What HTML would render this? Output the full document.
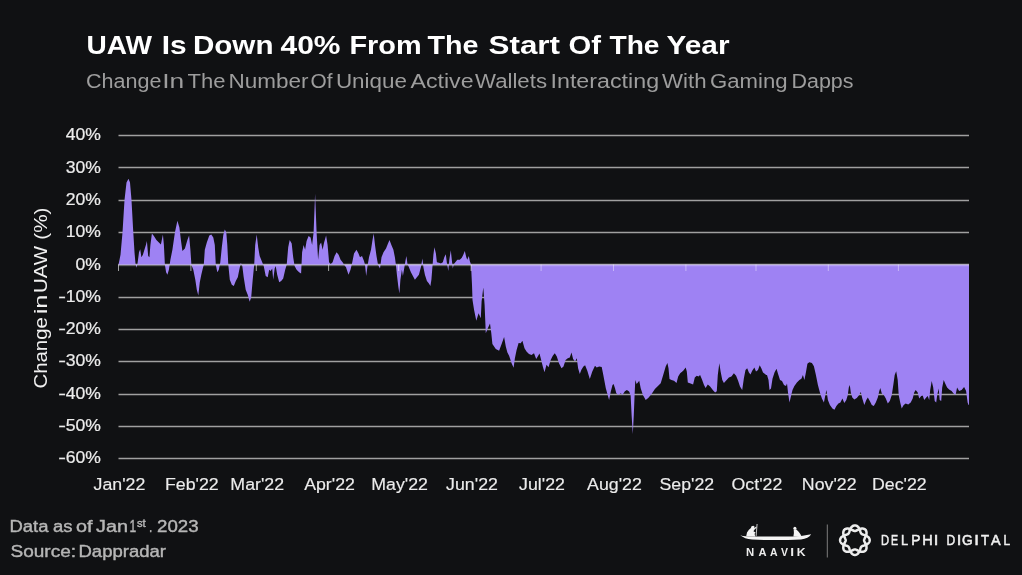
<!DOCTYPE html>
<html><head><meta charset="utf-8"><title>UAW Is Down 40% From The Start Of The Year</title>
<style>
html,body{margin:0;padding:0;background:#101113;}
body{width:1022px;height:575px;overflow:hidden;position:relative;font-family:"Liberation Sans",sans-serif;}
svg{position:absolute;left:0;top:0;}
svg text{font-family:"Liberation Sans",sans-serif;}
.title{font-size:26px;font-weight:bold;fill:#fff;}
.sub{font-size:19.5px;fill:#9d9d9d;}
.yl text{font-size:16px;fill:#ececec;stroke:#ececec;stroke-width:0.2;}
.xl text{font-size:16.5px;fill:#ececec;stroke:#ececec;stroke-width:0.15;}
.grid line{stroke:#a0a0a0;stroke-width:1.35;}
.ticks line{stroke:rgba(255,255,255,0.6);stroke-width:1;}
.foot{font-size:16px;fill:#b6b6b6;stroke:#b6b6b6;stroke-width:0.4;}
</style></head><body>
<svg width="1022" height="575" viewBox="0 0 1022 575">
<rect width="1022" height="575" fill="#101113"/>
<text class="title" y="54.4"><tspan x="86.5" textLength="65.5" lengthAdjust="spacingAndGlyphs">UAW</tspan> <tspan x="161.8" textLength="24.9" lengthAdjust="spacingAndGlyphs">Is</tspan> <tspan x="192.9" textLength="80.6" lengthAdjust="spacingAndGlyphs">Down</tspan> <tspan x="280.5" textLength="60" lengthAdjust="spacingAndGlyphs">40%</tspan> <tspan x="349.4" textLength="72.2" lengthAdjust="spacingAndGlyphs">From</tspan> <tspan x="427.5" textLength="51" lengthAdjust="spacingAndGlyphs">The</tspan> <tspan x="488.5" textLength="71.5" lengthAdjust="spacingAndGlyphs">Start</tspan> <tspan x="568.5" textLength="32.5" lengthAdjust="spacingAndGlyphs">Of</tspan> <tspan x="609.5" textLength="50" lengthAdjust="spacingAndGlyphs">The</tspan> <tspan x="666.5" textLength="63" lengthAdjust="spacingAndGlyphs">Year</tspan></text>
<text class="sub" y="87.9"><tspan x="86" textLength="75.5" lengthAdjust="spacingAndGlyphs">Change</tspan> <tspan x="162.2" textLength="22" lengthAdjust="spacingAndGlyphs">In</tspan> <tspan x="187.5" textLength="38" lengthAdjust="spacingAndGlyphs">The</tspan> <tspan x="228.5" textLength="80" lengthAdjust="spacingAndGlyphs">Number</tspan> <tspan x="310.5" textLength="22" lengthAdjust="spacingAndGlyphs">Of</tspan> <tspan x="335.9" textLength="71.1" lengthAdjust="spacingAndGlyphs">Unique</tspan> <tspan x="410.5" textLength="63.1" lengthAdjust="spacingAndGlyphs">Active</tspan> <tspan x="475" textLength="72" lengthAdjust="spacingAndGlyphs">Wallets</tspan> <tspan x="550.5" textLength="108.6" lengthAdjust="spacingAndGlyphs">Interacting</tspan> <tspan x="662" textLength="44.5" lengthAdjust="spacingAndGlyphs">With</tspan> <tspan x="710" textLength="77.5" lengthAdjust="spacingAndGlyphs">Gaming</tspan> <tspan x="791.5" textLength="62" lengthAdjust="spacingAndGlyphs">Dapps</tspan></text>
<g class="grid"><line x1="118.5" x2="969" y1="135.5" y2="135.5"/><line x1="118.5" x2="969" y1="167.5" y2="167.5"/><line x1="118.5" x2="969" y1="200.5" y2="200.5"/><line x1="118.5" x2="969" y1="232.5" y2="232.5"/><line x1="118.5" x2="969" y1="264.5" y2="264.5"/><line x1="118.5" x2="969" y1="297.5" y2="297.5"/><line x1="118.5" x2="969" y1="329.5" y2="329.5"/><line x1="118.5" x2="969" y1="361.5" y2="361.5"/><line x1="118.5" x2="969" y1="394.5" y2="394.5"/><line x1="118.5" x2="969" y1="426.5" y2="426.5"/><line x1="118.5" x2="969" y1="458.5" y2="458.5"/></g>
<path d="M118.5 264.8 L118.5 264.8 L120.5 254.8 L122.5 232.4 L124.5 199.9 L126.5 182.5 L128.5 178.7 L130 182.5 L131.5 199.9 L133 227.4 L134.5 252.3 L135.5 263.6 L136.5 267.8 L137.5 263.6 L139 252.3 L140.2 249.3 L141.4 257.3 L142.9 254.8 L144.4 249.8 L145.9 244.9 L146.9 241.1 L148.2 256.1 L149.4 257.3 L150.4 244.9 L151.9 233.6 L153.9 236.1 L156.4 239.9 L158.9 242.4 L160.9 244.4 L162.9 234.4 L163.9 244.9 L164.9 264.8 L166.1 272.3 L167.4 274.8 L168.9 269.8 L170.4 259.8 L172.4 249.8 L174.9 232.4 L177.4 220.7 L179.4 227.4 L180.9 239.9 L182.4 251.1 L184.9 248.6 L187.4 239.9 L189.1 235.4 L190.4 249.8 L191.4 264.8 L193.3 269.8 L195.3 279.8 L196.8 289.8 L198.3 295.5 L199.8 282.3 L201.3 274.8 L202.8 268.6 L203.8 264.8 L204.8 249.8 L206.8 242.4 L209.3 235.4 L211.3 234.4 L213.3 237.4 L214.8 244.9 L215.8 264.8 L217.3 272.3 L218.8 269.8 L220.3 262.3 L221.8 247.3 L223.3 234.9 L224.8 229.4 L226.3 232.4 L227.3 244.9 L228.3 264.8 L229.8 279.8 L231.8 284.8 L233.8 286 L235.8 281 L237.8 277.3 L239.3 269.8 L240.8 262.8 L242.3 266.1 L243.7 277.3 L245.7 289.8 L247.7 294.8 L249.7 301.7 L251.2 297.3 L252.7 279.8 L254.2 264.8 L255.2 244.9 L256.7 234.4 L258.2 247.3 L259.7 256.1 L261.7 261.1 L263.7 266.1 L265.7 276 L267.7 277.3 L269.2 269.8 L270.7 271.1 L272.2 268.6 L273.2 279.8 L274.7 268.6 L275.7 266.1 L277.2 274.8 L279.2 282.3 L281.2 281 L283.2 278.5 L285.2 269.8 L286.7 264.8 L288.2 247.3 L289.7 239.9 L291.7 243.6 L293.2 257.3 L294.6 266.1 L296.6 269.8 L299.1 272.3 L301.1 273.5 L302.1 252.3 L303.6 244.9 L305.1 249.8 L306.6 241.1 L308.6 236.1 L310.6 237.4 L312.1 244.9 L313.6 232.4 L315.1 193.7 L316.6 232.4 L318.1 259.8 L319.6 244.9 L321.1 242.4 L322.6 249.8 L324.1 242.4 L326.1 235.4 L327.6 244.9 L329.1 262.3 L330.6 264.3 L332.6 262.3 L334.6 256.1 L336.6 252.3 L338.6 254.8 L340.6 259.8 L342.6 262.3 L344.1 264.8 L346 267.3 L348.5 274.8 L350.5 269.8 L352 263.6 L354 253.6 L356.5 249.8 L358.5 253.6 L360 257.3 L362 256.1 L364 261.1 L365 264.8 L366.2 276 L367.5 266.1 L369 257.3 L371 249.8 L372.5 239.9 L373.7 233.6 L375 244.9 L376.5 256.1 L378 264.8 L380 268.6 L381.5 257.3 L383.5 252.3 L386 248.6 L388 243.6 L389.5 239.9 L391.4 244.9 L393.4 249.8 L394.9 257.3 L395.9 264.8 L396.9 274.8 L398.4 287.3 L399.4 293.5 L400.4 279.8 L401.9 269.8 L402.9 276 L404.4 267.3 L405.4 261.1 L406.4 256.1 L407.4 263.6 L408.9 267.3 L410.9 272.3 L412.9 276 L414.9 279.8 L416.9 277.3 L418.9 274.8 L420.9 267.3 L422.4 258.6 L423.4 267.3 L424.9 274.8 L426.9 281 L428.9 283.5 L430.4 286 L431.4 279.8 L432.4 267.3 L433.4 254.8 L434.4 247.3 L435.9 253.6 L436.9 262.3 L438.9 262.8 L440.9 263.6 L442.8 262.3 L444.3 257.3 L445.8 254.3 L446.8 262.3 L448.3 271.1 L449.3 259.8 L450.8 250.3 L451.8 259.8 L452.8 268.6 L453.8 264.3 L455.3 262.3 L457.3 259.8 L459.8 259.8 L461.8 257.8 L463.3 254.8 L464.8 251.1 L466.3 257.3 L467.3 259.8 L468.8 256.1 L469.8 261.1 L471 264.5 L472 284.9 L472.5 300 L474.1 310 L476.3 320.8 L478.6 313.3 L480.8 318.3 L481.6 301.6 L483.3 287.5 L484.6 305 L485.8 333.2 L487.5 329.1 L490 323.6 L491.3 333.2 L492.4 344.1 L495.8 349 L499.1 350.7 L501.9 343.2 L504.1 336.9 L505.8 346.5 L507.4 352.4 L509.1 355.7 L511.6 363.2 L513.6 367.7 L514.9 358.2 L516.6 349.9 L518.6 342.9 L520.7 343.2 L522.4 340.7 L524.5 348.2 L526.5 351.5 L529 354 L531.5 354.9 L534 353.2 L536.2 359 L538.2 355.7 L539.5 353.5 L541.2 359.9 L542.8 366.5 L544.5 372.3 L546.5 364.8 L548.5 367.3 L550.7 359.9 L552.8 355.7 L554.8 353.2 L556.8 356.5 L559 363.2 L561.5 368.2 L563.5 366.5 L565.6 359.9 L567.8 358.2 L569.8 357.4 L571.5 352.4 L573.1 359 L575.1 361.5 L576.8 358.2 L578.1 368.2 L579.8 374 L581.4 369.8 L583.4 366.5 L585.1 365.2 L587.3 370.7 L589.8 379 L592.3 371.5 L595 365.8 L596.7 367.5 L599.2 366.6 L601.7 367 L603.3 374.9 L605.8 388.2 L609.1 399.9 L610.8 391.6 L612.5 384.9 L613.6 384.1 L615 388.2 L616.3 393.2 L618.3 394.9 L620.8 393.2 L622.4 394.9 L624.9 391.2 L626.9 389.9 L629.1 391.6 L630.6 394.9 L631.6 414.9 L632.8 434 L633.8 414.9 L634.6 394.9 L635.3 379.9 L636.6 384.1 L637.9 382.4 L639.2 380.8 L640.7 388.2 L642.9 394.9 L645.7 399.9 L648.2 397.9 L651.6 394.1 L654.9 389.1 L658.2 385.8 L660.7 383.3 L663.2 374.9 L665.7 366.6 L667.4 363 L668.5 368.3 L669.5 379.1 L671.5 379.9 L674 380.8 L676.5 382.9 L678.2 376.6 L680.2 373.3 L683.2 370.8 L685.7 367.5 L686.8 371.6 L687.8 382.4 L690.6 383.6 L693.1 384.6 L694.8 377.4 L696.8 375.8 L698.5 376.6 L700.1 374.9 L701.8 379.1 L704 384.9 L705.6 387.9 L707.8 384.6 L710.1 386.6 L712.8 389.9 L715.1 392.4 L716.8 391.2 L717.8 374.9 L719.3 363.3 L720.6 371.6 L722.3 379.9 L723.9 382.9 L726.4 380.3 L728.9 377.4 L731.4 376.6 L733.9 373.3 L736.1 375.8 L738.1 380.8 L740 386.6 L742.2 389.9 L743.9 378.3 L745.5 370 L747.2 368.3 L748.9 372.4 L750.5 374.6 L752.2 370.8 L754.4 367.5 L756 371.6 L758 370 L759.7 365.3 L761.3 368.3 L763 372.4 L765 374.1 L766.1 374.9 L767 374.9 L768.5 379.9 L769.5 389.9 L771 388.6 L772.5 378.7 L774.5 372.4 L776.5 368.7 L778 373.7 L780 379.9 L782 381.1 L784 384.9 L786 386.1 L787 383.6 L788 392.4 L789.5 402.4 L791 396.1 L792.5 389.9 L794.4 386.1 L796.9 382.4 L799.4 379.9 L801.4 378.7 L802.9 374.9 L804.4 379.9 L805.9 372.4 L807.4 363.7 L809.4 361.9 L811.9 362.9 L813.9 366.2 L815.9 374.9 L817.9 384.9 L819.9 392.4 L821.9 398.6 L823.9 402.4 L825.4 394.9 L826.4 389.9 L827.9 399.9 L829.9 404.9 L832.4 408.6 L834.4 409.8 L836.4 406.1 L838.4 403.6 L840.4 402.4 L842.4 398.6 L844.3 402.9 L846.3 399.9 L847.8 394.9 L848.8 387.4 L849.8 384.9 L850.8 392.4 L852.3 397.4 L854.3 399.4 L856.8 397.9 L858.8 395.4 L860.8 391.9 L862.3 398.6 L864.3 404.9 L866.3 399.9 L867.8 397.4 L869.8 401.1 L871.8 404.9 L873.8 406.1 L875.8 402.4 L877.8 397.4 L879.3 391.1 L880.3 387.9 L881.8 393.6 L883.8 394.9 L885.8 398.6 L887.8 403.6 L889.8 401.1 L891.8 394.9 L893.3 384.9 L894.7 374.9 L896.2 371.2 L897.7 379.9 L898.7 394.9 L900.2 402.4 L901.7 408.6 L903.7 404.9 L905.7 403.6 L908.2 404.4 L910.7 402.4 L912.7 398.6 L914.2 392.4 L915.7 389.9 L917.7 392.4 L919.2 398.6 L921.2 396.1 L922.7 395.4 L924.2 399.9 L926.2 397.4 L927.7 396.1 L929.2 399.9 L930.2 389.9 L931.7 381.1 L933.2 387.4 L934.7 401.1 L936.2 402.4 L937.2 394.9 L938.7 388.6 L939.7 399.9 L941.2 401.1 L942.2 387.4 L943.7 379.9 L945.2 383.6 L947.1 387.4 L949.1 389.4 L951.6 391.1 L953.6 393.6 L955.6 394.9 L957.1 387.4 L959.1 391.1 L961.6 389.9 L964.1 386.9 L966.1 391.1 L967.6 402.4 L968.6 404.9 L969 404.9 L969 264.8 Z" fill="#9e82f3"/>
<line x1="118.5" x2="969" y1="265.2" y2="265.2" stroke="rgba(255,255,255,0.27)" stroke-width="2"/>
<g class="ticks"><line x1="118.5" x2="118.5" y1="264.5" y2="271"/><line x1="190.9" x2="190.9" y1="264.5" y2="271"/><line x1="256.3" x2="256.3" y1="264.5" y2="271"/><line x1="328.6" x2="328.6" y1="264.5" y2="271"/><line x1="398.7" x2="398.7" y1="264.5" y2="271"/><line x1="471.1" x2="471.1" y1="264.5" y2="271"/><line x1="541.1" x2="541.1" y1="264.5" y2="271" stroke-opacity="0.7"/><line x1="613.5" x2="613.5" y1="264.5" y2="271" stroke-opacity="0.7"/><line x1="685.9" x2="685.9" y1="264.5" y2="271" stroke-opacity="0.7"/><line x1="756" x2="756" y1="264.5" y2="271" stroke-opacity="0.7"/><line x1="828.3" x2="828.3" y1="264.5" y2="271" stroke-opacity="0.7"/><line x1="898.4" x2="898.4" y1="264.5" y2="271" stroke-opacity="0.7"/></g>
<g class="yl"><text transform="translate(101,140.3) scale(1.1,1)" text-anchor="end">40%</text><text transform="translate(101,172.6) scale(1.1,1)" text-anchor="end">30%</text><text transform="translate(101,204.9) scale(1.1,1)" text-anchor="end">20%</text><text transform="translate(101,237.2) scale(1.1,1)" text-anchor="end">10%</text><text transform="translate(101,269.5) scale(1.1,1)" text-anchor="end">0%</text><text transform="translate(101,301.8) scale(1.1,1)" text-anchor="end"><tspan textLength="7" lengthAdjust="spacingAndGlyphs">-</tspan>10%</text><text transform="translate(101,334.1) scale(1.1,1)" text-anchor="end"><tspan textLength="7" lengthAdjust="spacingAndGlyphs">-</tspan>20%</text><text transform="translate(101,366.4) scale(1.1,1)" text-anchor="end"><tspan textLength="7" lengthAdjust="spacingAndGlyphs">-</tspan>30%</text><text transform="translate(101,398.7) scale(1.1,1)" text-anchor="end"><tspan textLength="7" lengthAdjust="spacingAndGlyphs">-</tspan>40%</text><text transform="translate(101,431) scale(1.1,1)" text-anchor="end"><tspan textLength="7" lengthAdjust="spacingAndGlyphs">-</tspan>50%</text><text transform="translate(101,463.3) scale(1.1,1)" text-anchor="end"><tspan textLength="7" lengthAdjust="spacingAndGlyphs">-</tspan>60%</text></g>
<g class="xl"><text transform="translate(119.4,490) scale(1.077,1)" text-anchor="middle">Jan'22</text><text transform="translate(191.8,490) scale(1.077,1)" text-anchor="middle">Feb'22</text><text transform="translate(257.2,490) scale(1.077,1)" text-anchor="middle">Mar'22</text><text transform="translate(329.5,490) scale(1.077,1)" text-anchor="middle">Apr'22</text><text transform="translate(399.6,490) scale(1.077,1)" text-anchor="middle">May'22</text><text transform="translate(472,490) scale(1.077,1)" text-anchor="middle">Jun'22</text><text transform="translate(542,490) scale(1.077,1)" text-anchor="middle">Jul'22</text><text transform="translate(614.4,490) scale(1.077,1)" text-anchor="middle">Aug'22</text><text transform="translate(686.8,490) scale(1.077,1)" text-anchor="middle">Sep'22</text><text transform="translate(756.9,490) scale(1.077,1)" text-anchor="middle">Oct'22</text><text transform="translate(829.2,490) scale(1.077,1)" text-anchor="middle">Nov'22</text><text transform="translate(899.3,490) scale(1.077,1)" text-anchor="middle">Dec'22</text></g>
<text transform="translate(47.3,387.6) rotate(-90)" font-size="19" fill="#f0f0f0" y="0"><tspan x="-1" textLength="71.5" lengthAdjust="spacingAndGlyphs">Change</tspan> <tspan x="73.3" textLength="19.8" lengthAdjust="spacingAndGlyphs">in</tspan> <tspan x="94.5" textLength="47.1" lengthAdjust="spacingAndGlyphs">UAW</tspan> <tspan x="147.9" textLength="32.2" lengthAdjust="spacingAndGlyphs">(%)</tspan></text>
<text class="foot" y="532"><tspan x="9.5" textLength="39" lengthAdjust="spacingAndGlyphs">Data</tspan> <tspan x="53" textLength="19.5" lengthAdjust="spacingAndGlyphs">as</tspan> <tspan x="76" textLength="16.5" lengthAdjust="spacingAndGlyphs">of</tspan> <tspan x="96" textLength="32" lengthAdjust="spacingAndGlyphs">Jan</tspan> <tspan x="129.4" textLength="6.7" lengthAdjust="spacingAndGlyphs">1</tspan><tspan x="136.9" y="526.6" font-size="10" textLength="8.7" lengthAdjust="spacingAndGlyphs">st</tspan><tspan x="148.9" y="532" textLength="3.3" lengthAdjust="spacingAndGlyphs">.</tspan> <tspan x="157" textLength="41.5" lengthAdjust="spacingAndGlyphs">2023</tspan></text>
<text class="foot" y="556.8"><tspan x="10.5" textLength="65.5" lengthAdjust="spacingAndGlyphs">Source:</tspan> <tspan x="78.5" textLength="87.5" lengthAdjust="spacingAndGlyphs">Dappradar</tspan></text>
<!-- naavik -->
<g fill="#f4f4f4">
<path d="M740.3 535.2 Q742.5 536 746 536.2 L757.5 536.5 L793 536.5 Q803 536.3 811.2 534.3 Q808.5 538.6 801 539.6 Q775 540.6 752 539.6 Q744.5 538.8 740.3 535.2Z"/>
<path d="M746.2 536.2 L747 532.5 L748.9 529.7 L750.9 528 L751.5 526.2 L753.4 525.7 L754.6 526.8 L754.2 528.2 L756.2 526.5 L756.6 527.4 L754.4 529.7 L753.4 531.2 L755.6 532.5 L754.6 533.7 L755.2 536.4Z"/>
<circle cx="794.9" cy="528.2" r="1.5"/>
<path d="M793.7 529.4 L796.1 529.3 L798.2 531.3 L799.8 533.3 L801.2 535.6 L800 536.6 L793.4 536.6 L793.9 533Z"/>
</g>
<line x1="757.1" y1="524" x2="756.1" y2="536" stroke="#f4f4f4" stroke-width="0.8"/>
<text y="556.1" font-size="11.8" font-weight="bold" fill="#ededed"><tspan x="745.9" textLength="8.2" lengthAdjust="spacingAndGlyphs">N</tspan><tspan x="758.4" textLength="8.1" lengthAdjust="spacingAndGlyphs">A</tspan><tspan x="770" textLength="7.6" lengthAdjust="spacingAndGlyphs">A</tspan><tspan x="781" textLength="7" lengthAdjust="spacingAndGlyphs">V</tspan><tspan x="790.3" textLength="3.8" lengthAdjust="spacingAndGlyphs">I</tspan><tspan x="796.8" textLength="8.8" lengthAdjust="spacingAndGlyphs">K</tspan></text>
<line x1="827.3" x2="827.3" y1="524.5" y2="557.5" stroke="#7d7d7d" stroke-width="1"/>
<g fill="none" stroke="#ececec" stroke-width="2.5"><path d="M869.7 540.2 L869.7 540.6 L869.6 541 L869.5 541.4 L869.4 541.7 L869.2 542.1 L869 542.4 L868.7 542.8 L868.5 543.1 L868.2 543.4 L867.8 543.7 L867.5 543.9 L867.1 544.2 L866.8 544.4 L866.4 544.6 L866 544.8 L865.6 545 L865.2 545.1 L864.8 545.3 L864.4 545.4 L864.1 545.5 L863.7 545.6 L863.4 545.7 L863.1 545.8 L862.8 545.9 L862.5 546 L862.2 546.1 L862 546.3 L861.8 546.4 L861.6 546.5 L861.4 546.7 L861.2 546.9 L861.1 547.1 L861 547.3 L860.8 547.5 L860.7 547.8 L860.6 548.1 L860.5 548.4 L860.4 548.7 L860.3 549 L860.2 549.4 L860.1 549.7 L860 550.1 L859.8 550.5 L859.7 550.9 L859.5 551.3 L859.3 551.7 L859.1 552.1 L858.9 552.4 L858.6 552.8 L858.4 553.1 L858.1 553.5 L857.8 553.8 L857.5 554 L857.1 554.3 L856.8 554.5 L856.4 554.7 L856.1 554.8 L855.7 554.9 L855.3 555 L854.9 555 L854.5 555 L854.1 554.9 L853.7 554.8 L853.4 554.7 L853 554.5 L852.7 554.3 L852.3 554 L852 553.8 L851.7 553.5 L851.4 553.1 L851.2 552.8 L850.9 552.4 L850.7 552.1 L850.5 551.7 L850.3 551.3 L850.1 550.9 L850 550.5 L849.8 550.1 L849.7 549.7 L849.6 549.4 L849.5 549 L849.4 548.7 L849.3 548.4 L849.2 548.1 L849.1 547.8 L849 547.5 L848.8 547.3 L848.7 547.1 L848.6 546.9 L848.4 546.7 L848.2 546.5 L848 546.4 L847.8 546.3 L847.6 546.1 L847.3 546 L847 545.9 L846.7 545.8 L846.4 545.7 L846.1 545.6 L845.7 545.5 L845.4 545.4 L845 545.3 L844.6 545.1 L844.2 545 L843.8 544.8 L843.4 544.6 L843 544.4 L842.7 544.2 L842.3 543.9 L842 543.7 L841.6 543.4 L841.3 543.1 L841.1 542.8 L840.8 542.4 L840.6 542.1 L840.4 541.7 L840.3 541.4 L840.2 541 L840.1 540.6 L840.1 540.2 L840.1 539.8 L840.2 539.4 L840.3 539 L840.4 538.7 L840.6 538.3 L840.8 538 L841.1 537.6 L841.3 537.3 L841.6 537 L842 536.7 L842.3 536.5 L842.7 536.2 L843 536 L843.4 535.8 L843.8 535.6 L844.2 535.4 L844.6 535.3 L845 535.1 L845.4 535 L845.7 534.9 L846.1 534.8 L846.4 534.7 L846.7 534.6 L847 534.5 L847.3 534.4 L847.6 534.3 L847.8 534.1 L848 534 L848.2 533.9 L848.4 533.7 L848.6 533.5 L848.7 533.3 L848.8 533.1 L849 532.9 L849.1 532.6 L849.2 532.3 L849.3 532 L849.4 531.7 L849.5 531.4 L849.6 531 L849.7 530.7 L849.8 530.3 L850 529.9 L850.1 529.5 L850.3 529.1 L850.5 528.7 L850.7 528.3 L850.9 528 L851.2 527.6 L851.4 527.3 L851.7 526.9 L852 526.6 L852.3 526.4 L852.7 526.1 L853 525.9 L853.4 525.7 L853.7 525.6 L854.1 525.5 L854.5 525.4 L854.9 525.4 L855.3 525.4 L855.7 525.5 L856.1 525.6 L856.4 525.7 L856.8 525.9 L857.1 526.1 L857.5 526.4 L857.8 526.6 L858.1 526.9 L858.4 527.3 L858.6 527.6 L858.9 528 L859.1 528.3 L859.3 528.7 L859.5 529.1 L859.7 529.5 L859.8 529.9 L860 530.3 L860.1 530.7 L860.2 531 L860.3 531.4 L860.4 531.7 L860.5 532 L860.6 532.3 L860.7 532.6 L860.8 532.9 L861 533.1 L861.1 533.3 L861.2 533.5 L861.4 533.7 L861.6 533.9 L861.8 534 L862 534.1 L862.2 534.3 L862.5 534.4 L862.8 534.5 L863.1 534.6 L863.4 534.7 L863.7 534.8 L864.1 534.9 L864.4 535 L864.8 535.1 L865.2 535.3 L865.6 535.4 L866 535.6 L866.4 535.8 L866.8 536 L867.1 536.2 L867.5 536.5 L867.8 536.7 L868.2 537 L868.5 537.3 L868.7 537.6 L869 538 L869.2 538.3 L869.4 538.7 L869.5 539 L869.6 539.4 L869.7 539.8 L869.7 540.2Z"/><path d="M864.1 540.2 L864.1 540.4 L864.1 540.7 L864.2 540.9 L864.3 541.2 L864.4 541.4 L864.5 541.7 L864.7 542 L864.8 542.3 L865 542.6 L865.1 542.9 L865.3 543.3 L865.5 543.6 L865.7 544 L865.8 544.4 L866 544.8 L866.1 545.2 L866.3 545.6 L866.4 546 L866.4 546.5 L866.5 546.9 L866.5 547.3 L866.5 547.8 L866.5 548.2 L866.4 548.6 L866.3 549 L866.2 549.4 L866 549.7 L865.9 550.1 L865.6 550.4 L865.4 550.7 L865.1 550.9 L864.8 551.2 L864.4 551.3 L864.1 551.5 L863.7 551.6 L863.3 551.7 L862.9 551.8 L862.5 551.8 L862 551.8 L861.6 551.8 L861.2 551.7 L860.7 551.7 L860.3 551.6 L859.9 551.4 L859.5 551.3 L859.1 551.1 L858.7 551 L858.3 550.8 L858 550.6 L857.6 550.4 L857.3 550.3 L857 550.1 L856.7 550 L856.4 549.8 L856.1 549.7 L855.9 549.6 L855.6 549.5 L855.4 549.4 L855.1 549.4 L854.9 549.4 L854.7 549.4 L854.4 549.4 L854.2 549.5 L853.9 549.6 L853.7 549.7 L853.4 549.8 L853.1 550 L852.8 550.1 L852.5 550.3 L852.2 550.4 L851.8 550.6 L851.5 550.8 L851.1 551 L850.7 551.1 L850.3 551.3 L849.9 551.4 L849.5 551.6 L849.1 551.7 L848.6 551.7 L848.2 551.8 L847.8 551.8 L847.3 551.8 L846.9 551.8 L846.5 551.7 L846.1 551.6 L845.7 551.5 L845.4 551.3 L845 551.2 L844.7 550.9 L844.4 550.7 L844.2 550.4 L843.9 550.1 L843.8 549.7 L843.6 549.4 L843.5 549 L843.4 548.6 L843.3 548.2 L843.3 547.8 L843.3 547.3 L843.3 546.9 L843.4 546.5 L843.4 546 L843.5 545.6 L843.7 545.2 L843.8 544.8 L844 544.4 L844.1 544 L844.3 543.6 L844.5 543.3 L844.7 542.9 L844.8 542.6 L845 542.3 L845.1 542 L845.3 541.7 L845.4 541.4 L845.5 541.2 L845.6 540.9 L845.7 540.7 L845.7 540.4 L845.7 540.2 L845.7 540 L845.7 539.7 L845.6 539.5 L845.5 539.2 L845.4 539 L845.3 538.7 L845.1 538.4 L845 538.1 L844.8 537.8 L844.7 537.5 L844.5 537.1 L844.3 536.8 L844.1 536.4 L844 536 L843.8 535.6 L843.7 535.2 L843.5 534.8 L843.4 534.4 L843.4 533.9 L843.3 533.5 L843.3 533.1 L843.3 532.6 L843.3 532.2 L843.4 531.8 L843.5 531.4 L843.6 531 L843.8 530.7 L843.9 530.3 L844.2 530 L844.4 529.7 L844.7 529.5 L845 529.2 L845.4 529.1 L845.7 528.9 L846.1 528.8 L846.5 528.7 L846.9 528.6 L847.3 528.6 L847.8 528.6 L848.2 528.6 L848.6 528.7 L849.1 528.7 L849.5 528.8 L849.9 529 L850.3 529.1 L850.7 529.3 L851.1 529.4 L851.5 529.6 L851.8 529.8 L852.2 530 L852.5 530.1 L852.8 530.3 L853.1 530.4 L853.4 530.6 L853.7 530.7 L853.9 530.8 L854.2 530.9 L854.4 531 L854.7 531 L854.9 531 L855.1 531 L855.4 531 L855.6 530.9 L855.9 530.8 L856.1 530.7 L856.4 530.6 L856.7 530.4 L857 530.3 L857.3 530.1 L857.6 530 L858 529.8 L858.3 529.6 L858.7 529.4 L859.1 529.3 L859.5 529.1 L859.9 529 L860.3 528.8 L860.7 528.7 L861.2 528.7 L861.6 528.6 L862 528.6 L862.5 528.6 L862.9 528.6 L863.3 528.7 L863.7 528.8 L864.1 528.9 L864.4 529.1 L864.8 529.2 L865.1 529.5 L865.4 529.7 L865.6 530 L865.9 530.3 L866 530.7 L866.2 531 L866.3 531.4 L866.4 531.8 L866.5 532.2 L866.5 532.6 L866.5 533.1 L866.5 533.5 L866.4 533.9 L866.4 534.4 L866.3 534.8 L866.1 535.2 L866 535.6 L865.8 536 L865.7 536.4 L865.5 536.8 L865.3 537.1 L865.1 537.5 L865 537.8 L864.8 538.1 L864.7 538.4 L864.5 538.7 L864.4 539 L864.3 539.2 L864.2 539.5 L864.1 539.7 L864.1 540 L864.1 540.2Z"/></g>
<text y="545.3" font-size="14" fill="#f0f0f0" stroke="#f0f0f0" stroke-width="0.5"><tspan x="880.9" textLength="8.1" lengthAdjust="spacingAndGlyphs">D</tspan><tspan x="891" textLength="7.1" lengthAdjust="spacingAndGlyphs">E</tspan><tspan x="901" textLength="7.1" lengthAdjust="spacingAndGlyphs">L</tspan><tspan x="911.3" textLength="9.2" lengthAdjust="spacingAndGlyphs">P</tspan><tspan x="922.2" textLength="10.5" lengthAdjust="spacingAndGlyphs">H</tspan><tspan x="933.7" textLength="4.6" lengthAdjust="spacingAndGlyphs">I</tspan> <tspan x="946.4" textLength="8.7" lengthAdjust="spacingAndGlyphs">D</tspan><tspan x="956.7" textLength="4.6" lengthAdjust="spacingAndGlyphs">I</tspan><tspan x="961.9" textLength="10.7" lengthAdjust="spacingAndGlyphs">G</tspan><tspan x="974.2" textLength="4.6" lengthAdjust="spacingAndGlyphs">I</tspan><tspan x="980.9" textLength="8.1" lengthAdjust="spacingAndGlyphs">T</tspan><tspan x="991" textLength="9.6" lengthAdjust="spacingAndGlyphs">A</tspan><tspan x="1003.4" textLength="6.6" lengthAdjust="spacingAndGlyphs">L</tspan></text>
</svg>
</body></html>
